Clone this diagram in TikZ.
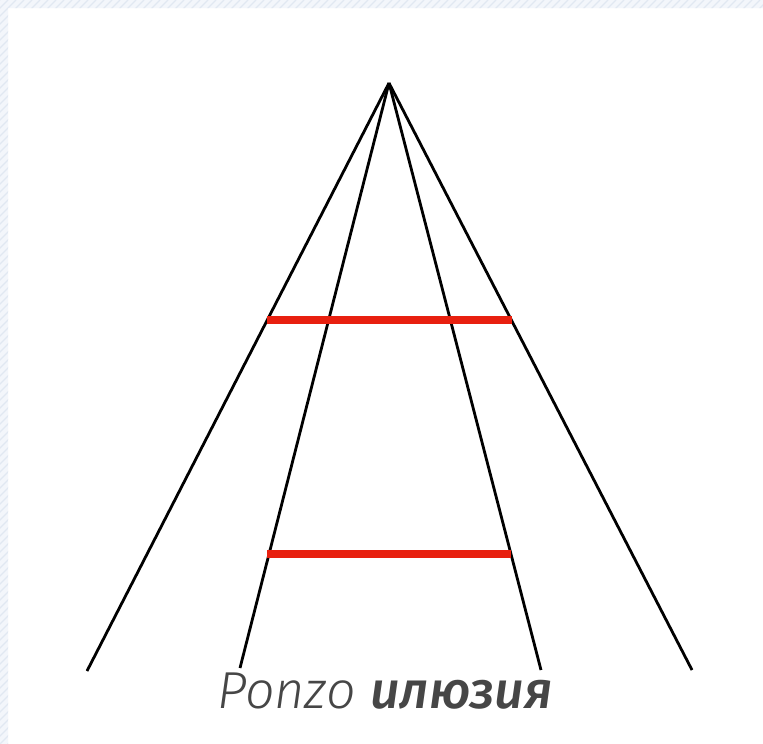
\documentclass[tikz,border=0pt]{standalone}
\usepackage{fontspec}
\setmainfont{Fira Sans}[ItalicFont={Fira Sans Light Italic},BoldItalicFont={Fira Sans Medium Italic}]
\definecolor{hatchbg}{HTML}{F3F6FB}
\definecolor{hatchln}{HTML}{E1E8F2}
\definecolor{ponzored}{HTML}{E8200F}
\definecolor{txtgray}{HTML}{464646}
\tikzset{
  rayline/.style={line width=2.8pt, black},
  barline/.style={line width=7.5pt, ponzored},
}
\begin{document}
\begin{tikzpicture}[x=1pt,y=-1pt]
\useasboundingbox (0,0) rectangle (763,744);
\fill[white] (0,0) rectangle (763,744);
% hatched frame strips
\begin{scope}
  \clip (0,0) rectangle (763,8) (0,8) rectangle (8,744);
  \fill[hatchbg] (0,0) rectangle (763,744);
  \foreach \i in {-760,-752,...,770} {
    \draw[hatchln, line width=1.2pt] (\i,760) -- (\i+760,0);
  }
\end{scope}
% points
\coordinate (apex) at (389,83);
\coordinate (ol) at (87,671);
\coordinate (il) at (240,668);
\coordinate (ir) at (541,670);
\coordinate (or) at (692,670);
\coordinate (t1) at (267,320);
\coordinate (t2) at (512,320);
\coordinate (b1) at (267,554);
\coordinate (b2) at (511,554);
% rays
\draw[rayline] (apex) -- (ol);
\draw[rayline] (apex) -- (il);
\draw[rayline] (apex) -- (ir);
\draw[rayline] (apex) -- (or);
% red bars
\draw[barline] (t1) -- (t2);
\draw[barline] (b1) -- (b2);
% caption
\node[anchor=base, text=txtgray, font=\fontsize{52}{56}\selectfont, inner sep=0pt] (cap) at (385,708) {\itshape Ponzo \bfseries илюзия};
\end{tikzpicture}
\end{document}
